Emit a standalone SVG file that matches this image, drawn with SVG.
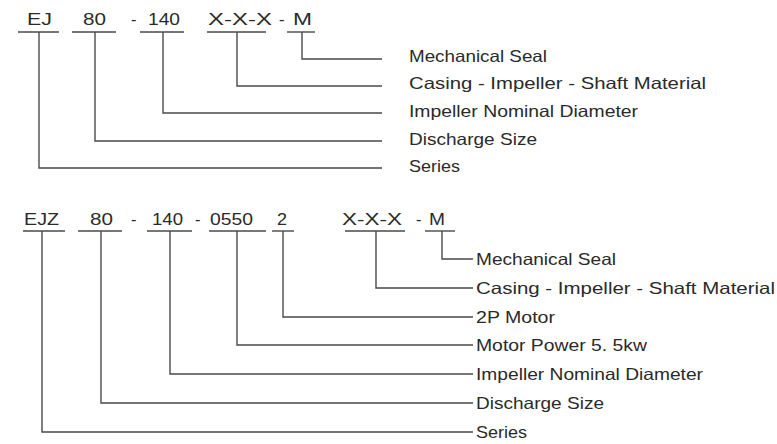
<svg xmlns="http://www.w3.org/2000/svg" width="777" height="444" viewBox="0 0 777 444">
<style>
text{font-family:"Liberation Sans",Arial,sans-serif;font-size:16.5px;fill:#2a2a2a}
.u{stroke:#4a4a4a;stroke-width:1.4;fill:none}
.c{stroke:#4a4a4a;stroke-width:1.4;fill:none}
</style>
<rect width="777" height="444" fill="#ffffff"/>
<!-- Top code -->
<g id="top-code">
<g id="t-ej"><text x="27" y="25" textLength="25" lengthAdjust="spacingAndGlyphs">EJ</text><line class="u" x1="18" y1="32" x2="59" y2="32"/></g>
<g id="t-80"><text x="83" y="25" textLength="23" lengthAdjust="spacingAndGlyphs">80</text><line class="u" x1="72" y1="32" x2="116" y2="32"/></g>
<g id="t-d1"><text x="131" y="25">-</text></g>
<g id="t-140"><text x="148" y="25" textLength="32" lengthAdjust="spacingAndGlyphs">140</text><line class="u" x1="140" y1="32" x2="184" y2="32"/></g>
<g id="t-xxx"><text x="208" y="25" textLength="64" lengthAdjust="spacingAndGlyphs">X-X-X</text><line class="u" x1="207" y1="32" x2="266" y2="32"/></g>
<g id="t-d2"><text x="279" y="25">-</text></g>
<g id="t-m"><text x="293" y="25" textLength="19" lengthAdjust="spacingAndGlyphs">M</text><line class="u" x1="287" y1="32" x2="315" y2="32"/></g>
</g>
<g id="top-labels">
<g id="tl-seal"><text x="409" y="62" textLength="138" lengthAdjust="spacingAndGlyphs">Mechanical Seal</text></g>
<g id="tl-material"><text x="409" y="89" textLength="297" lengthAdjust="spacingAndGlyphs">Casing - Impeller - Shaft Material</text></g>
<g id="tl-diameter"><text x="409" y="117" textLength="229" lengthAdjust="spacingAndGlyphs">Impeller Nominal Diameter</text></g>
<g id="tl-discharge"><text x="409" y="145" textLength="128" lengthAdjust="spacingAndGlyphs">Discharge Size</text></g>
<g id="tl-series"><text x="409" y="172" textLength="51" lengthAdjust="spacingAndGlyphs">Series</text></g>
</g>
<g id="top-connectors">
<polyline class="c" points="302,32 302,59 382,59"/>
<polyline class="c" points="237,32 237,86 382,86"/>
<polyline class="c" points="163,32 163,113 382,113"/>
<polyline class="c" points="95,32 95,141 382,141"/>
<polyline class="c" points="39,32 39,168 382,168"/>
</g>
<!-- Bottom code -->
<g id="bottom-code">
<g id="b-ejz"><text x="24" y="225" textLength="35" lengthAdjust="spacingAndGlyphs">EJZ</text><line class="u" x1="23" y1="231" x2="65" y2="231"/></g>
<g id="b-80"><text x="90" y="225" textLength="23" lengthAdjust="spacingAndGlyphs">80</text><line class="u" x1="78" y1="231" x2="122" y2="231"/></g>
<g id="b-d1"><text x="131" y="225">-</text></g>
<g id="b-140"><text x="152" y="225" textLength="31" lengthAdjust="spacingAndGlyphs">140</text><line class="u" x1="147" y1="231" x2="192" y2="231"/></g>
<g id="b-d2"><text x="195" y="225">-</text></g>
<g id="b-0550"><text x="210" y="225" textLength="43" lengthAdjust="spacingAndGlyphs">0550</text><line class="u" x1="209" y1="231" x2="266" y2="231"/></g>
<g id="b-2"><text x="277" y="225" textLength="10" lengthAdjust="spacingAndGlyphs">2</text><line class="u" x1="272" y1="231" x2="294" y2="231"/></g>
<g id="b-xxx"><text x="342" y="225" textLength="60" lengthAdjust="spacingAndGlyphs">X-X-X</text><line class="u" x1="345" y1="231" x2="405" y2="231"/></g>
<g id="b-d3"><text x="416" y="225">-</text></g>
<g id="b-m"><text x="429" y="225" textLength="16" lengthAdjust="spacingAndGlyphs">M</text><line class="u" x1="425" y1="231" x2="455" y2="231"/></g>
</g>
<g id="bottom-labels">
<g id="bl-seal"><text x="476" y="265" textLength="140" lengthAdjust="spacingAndGlyphs">Mechanical Seal</text></g>
<g id="bl-material"><text x="476" y="294" textLength="299" lengthAdjust="spacingAndGlyphs">Casing - Impeller - Shaft Material</text></g>
<g id="bl-motor"><text x="476" y="323" textLength="79" lengthAdjust="spacingAndGlyphs">2P Motor</text></g>
<g id="bl-power"><text x="476" y="351" textLength="171" lengthAdjust="spacingAndGlyphs">Motor Power 5. 5kw</text></g>
<g id="bl-diameter"><text x="476" y="380" textLength="227" lengthAdjust="spacingAndGlyphs">Impeller Nominal Diameter</text></g>
<g id="bl-discharge"><text x="476" y="409" textLength="128" lengthAdjust="spacingAndGlyphs">Discharge Size</text></g>
<g id="bl-series"><text x="476" y="438" textLength="51" lengthAdjust="spacingAndGlyphs">Series</text></g>
</g>
<g id="bottom-connectors">
<polyline class="c" points="442,231 442,259 473,259"/>
<polyline class="c" points="376,231 376,288 473,288"/>
<polyline class="c" points="283,231 283,317 473,317"/>
<polyline class="c" points="237,231 237,345 473,345"/>
<polyline class="c" points="170,231 170,374 473,374"/>
<polyline class="c" points="101,231 101,403 473,403"/>
<polyline class="c" points="42,231 42,432 473,432"/>
</g>
</svg>
